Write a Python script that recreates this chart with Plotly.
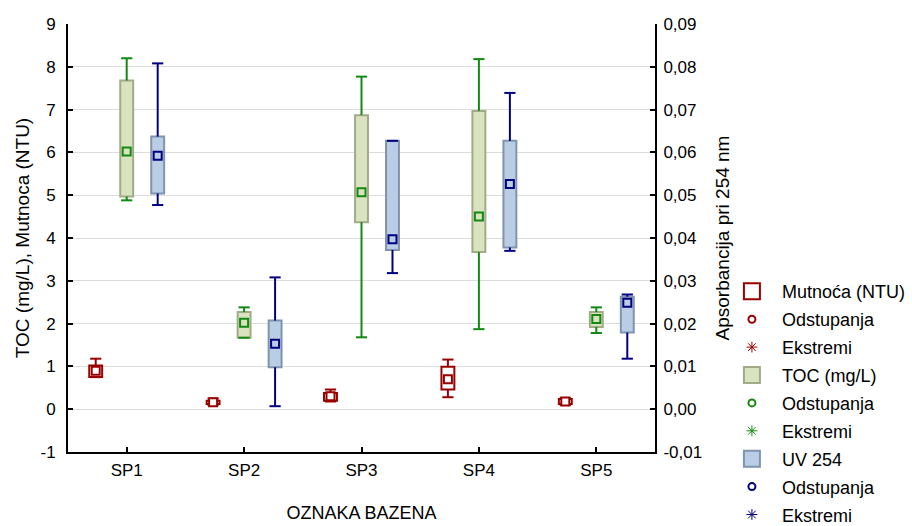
import plotly.graph_objects as go

# ---------------- data ----------------
categories = ["SP1", "SP2", "SP3", "SP4", "SP5"]

# Mutnoća (NTU) – left axis
mut_min = [0.75, 0.10, 0.18, 0.28, 0.10]
mut_q1 = [0.75, 0.12, 0.20, 0.46, 0.12]
mut_med = [0.90, 0.16, 0.30, 0.70, 0.18]
mut_q3 = [1.02, 0.20, 0.38, 0.99, 0.24]
mut_max = [1.18, 0.25, 0.46, 1.16, 0.26]

# TOC (mg/L) – left axis
toc_min = [4.88, 1.67, 1.68, 1.87, 1.78]
toc_q1 = [4.97, 1.67, 4.37, 3.67, 1.92]
toc_med = [6.02, 2.02, 5.07, 4.50, 2.11]
toc_q3 = [7.68, 2.27, 6.87, 6.97, 2.27]
toc_max = [8.20, 2.38, 7.77, 8.18, 2.38]

# UV 254 (absorbance) – right axis
uv_min = [0.0477, 0.0007, 0.0318, 0.0370, 0.0118]
uv_q1 = [0.0504, 0.0098, 0.0372, 0.0378, 0.0179]
uv_med = [0.0592, 0.0153, 0.0397, 0.0526, 0.0249]
uv_q3 = [0.0637, 0.0207, 0.0627, 0.0627, 0.0263]
uv_max = [0.0808, 0.0308, 0.0627, 0.0739, 0.0268]

left_ticks = [-1, 0, 1, 2, 3, 4, 5, 6, 7, 8, 9]
left_ticktext = ["-1", "0", "1", "2", "3", "4", "5", "6", "7", "8", "9"]
right_ticks = [-0.01, 0.0, 0.01, 0.02, 0.03, 0.04, 0.05, 0.06, 0.07, 0.08, 0.09]
right_ticktext = ["-0,01", "0,00", "0,01", "0,02", "0,03", "0,04", "0,05",
                  "0,06", "0,07", "0,08", "0,09"]

FONT = "Liberation Sans, Arial, sans-serif"

series = [
    dict(name="Mutnoća (NTU)", mn=mut_min, q1=mut_q1, med=mut_med, q3=mut_q3, mx=mut_max,
         off=-0.264, yaxis="y", fill="#ffffff", edge="#990000", wh="#990000"),
    dict(name="TOC (mg/L)", mn=toc_min, q1=toc_q1, med=toc_med, q3=toc_q3, mx=toc_max,
         off=0.0, yaxis="y", fill="#d9e3bf", edge="#a2ab86", wh="#128a12"),
    dict(name="UV 254", mn=uv_min, q1=uv_q1, med=uv_med, q3=uv_q3, mx=uv_max,
         off=0.264, yaxis="y2", fill="#b9cde5", edge="#7f94ae", wh="#000080"),
]

fig = go.Figure()
BW = 0.11

for s in series:
    xs = [i + s["off"] for i in range(len(categories))]
    # box (25-75 %)
    fig.add_trace(go.Bar(
        x=xs, base=s["q1"], y=[b - a for a, b in zip(s["q1"], s["q3"])],
        width=BW, yaxis=s["yaxis"],
        marker=dict(color=s["fill"], line=dict(color=s["edge"], width=2)),
        showlegend=False, hoverinfo="skip"))
    # whiskers
    wx, wy = [], []
    for x, a, b, c, d in zip(xs, s["mn"], s["q1"], s["q3"], s["mx"]):
        wx += [x, x, None, x, x, None]
        wy += [c, d, None, b, a, None]
    fig.add_trace(go.Scatter(
        x=wx, y=wy, mode="lines", yaxis=s["yaxis"],
        line=dict(color=s["wh"], width=2), showlegend=False, hoverinfo="skip"))
    # caps
    fig.add_trace(go.Scatter(
        x=xs + xs, y=s["mn"] + s["mx"], mode="markers", yaxis=s["yaxis"],
        marker=dict(symbol="line-ew", size=8, line=dict(color=s["wh"], width=2)),
        showlegend=False, hoverinfo="skip"))
    # median
    fig.add_trace(go.Scatter(
        x=xs, y=s["med"], mode="markers", yaxis=s["yaxis"],
        marker=dict(symbol="square", size=8, color=s["fill"],
                    line=dict(color=s["wh"], width=2)),
        showlegend=False))

# legend entries
for k, s in enumerate(series):
    fig.add_trace(go.Scatter(
        x=[None], y=[None], mode="markers", name=s["name"], legendgroup=f"g{k}a",
        marker=dict(symbol="square", size=16, color=s["fill"],
                    line=dict(color=s["edge"], width=2))))
    fig.add_trace(go.Scatter(
        x=[None], y=[None], mode="markers", name="Odstupanja", legendgroup=f"g{k}b",
        marker=dict(symbol="circle-open", size=7, color=s["wh"], line=dict(width=2))))
    fig.add_trace(go.Scatter(
        x=[None], y=[None], mode="markers", name="Ekstremi", legendgroup=f"g{k}c",
        marker=dict(symbol="asterisk-open", size=9, color=s["wh"], line=dict(width=1))))

axis_common = dict(showline=True, linecolor="black", linewidth=2, ticks="inside",
                   ticklen=5, tickwidth=2, tickcolor="black", automargin=False,
                   tickfont=dict(family=FONT, size=17, color="black"))

fig.update_layout(
    width=912, height=526,
    margin=dict(l=68, r=257, t=24, b=74, autoexpand=False),
    paper_bgcolor="white", plot_bgcolor="white",
    barmode="overlay",
    font=dict(family=FONT, color="black"),
    xaxis=dict(range=[-0.5, 4.5], tickvals=list(range(len(categories))),
               ticktext=categories, showgrid=False, zeroline=False,
               ticklabelstandoff=2,
               title=dict(text="OZNAKA BAZENA", font=dict(family=FONT, size=18), standoff=27),
               **axis_common),
    yaxis=dict(range=[-1, 9], tickvals=left_ticks, ticktext=left_ticktext,
               showgrid=True, gridcolor="#dcdcdc", gridwidth=1, zeroline=False,
               ticklabelstandoff=7,
               title=dict(text="TOC (mg/L), Mutnoca (NTU)", font=dict(family=FONT, size=19),
                          standoff=6),
               **axis_common),
    yaxis2=dict(range=[-0.01, 0.09], tickvals=right_ticks, ticktext=right_ticktext,
                overlaying="y", side="right", showgrid=False, zeroline=False,
                ticklabelstandoff=3,
                title=dict(text="Apsorbancija pri 254 nm", font=dict(family=FONT, size=19),
                           standoff=15),
                **axis_common),
    legend=dict(x=1.114, xanchor="left", y=0.418, yanchor="top",
                font=dict(family=FONT, size=18, color="black"),
                tracegroupgap=1.5, traceorder="grouped", bgcolor="rgba(0,0,0,0)",
                itemsizing="trace", itemwidth=50),
)

fig.write_html("out.html", config={"displayModeBar": False},
               post_script="document.body.style.margin='0';")
